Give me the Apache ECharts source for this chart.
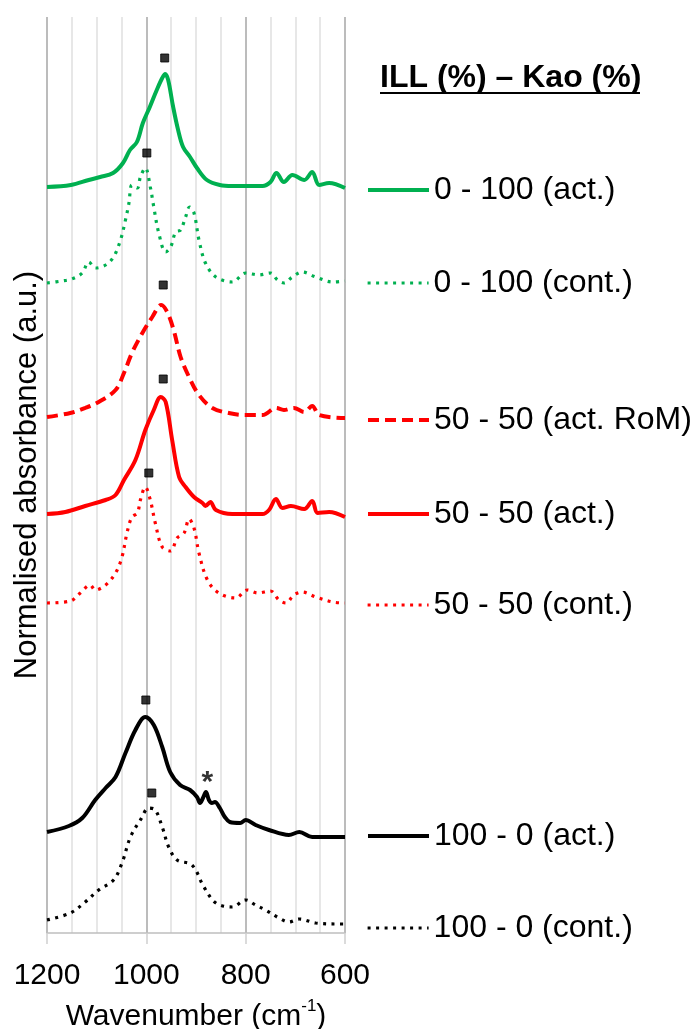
<!DOCTYPE html>
<html>
<head>
<meta charset="utf-8">
<script src="https://cdn.jsdelivr.net/npm/echarts@6/dist/echarts.min.js"></script>
<style>
html,body{margin:0;padding:0;background:#fff;}
#chart{width:693px;height:1029px;}
</style>
</head>
<body>
<div id="chart"></div>
<script>
// Wavenumber (cm-1) and offset normalised absorbance (a.u.)
const wnGreenAct = [1200,1152,1116,1093,1067,1047,1033,1019,1007,993,979,968,962,956,946,936,926,912,898,878,852,827,766,750,738,723,706,682,666,652,632,600];
const absGreenAct = [746,748,753,756,760,770,783,791,810,826,843,855,859,853,826,803,786,776,765,753,748,747,747,751,760,751,758,753,761,748,750,745];

const wnGreenCont = [1200,1170,1150,1129,1116,1102,1082,1066,1052,1042,1035,1029,1018,1012,1002,992,985,975,961,951,941,931,921,913,904,894,881,860,827,800,773,750,736,723,706,686,659,625,600];
const absGreenCont = [650,652,654,660,671,665,668,676,693,713,730,748,745,756,765,746,726,700,681,686,701,703,716,726,720,693,670,656,651,660,658,660,653,650,656,661,656,651,652];

const wnRedRoM = [1200,1153,1123,1096,1062,1045,1029,1008,988,970,958,945,931,914,894,867,834,800,766,739,723,703,682,666,652,600];
const absRedRoM = [516,520,525,531,543,560,580,600,616,628,621,603,576,556,538,525,520,518,518,525,523,525,521,527,518,515];

const wnRedAct = [1200,1163,1123,1082,1062,1045,1022,1002,985,971,961,948,934,921,904,887,881,871,860,827,766,753,739,726,709,682,666,655,632,600];
const absRedAct = [419,421,427,433,438,453,473,503,523,536,531,493,456,446,436,430,427,431,423,419,419,423,434,425,427,424,432,420,421,416];

const wnRedCont = [1200,1153,1133,1113,1103,1082,1062,1049,1039,1029,1018,1012,1002,992,982,968,951,938,924,914,904,894,877,854,820,797,776,750,733,719,703,686,659,625,600];
const absRedCont = [330,332,340,348,343,348,360,376,400,416,420,433,446,433,410,386,382,395,400,414,405,380,353,340,335,343,340,342,333,330,338,341,336,331,330];

const wnBlackAct = [1200,1156,1129,1103,1082,1062,1042,1022,1002,985,968,952,932,912,898,892,886,880,874,868,862,852,842,832,811,800,780,753,713,692,666,600];
const absBlackAct = [101,107,115,133,145,156,180,203,216,208,186,161,148,143,136,130,135,141,133,130,131,125,116,111,110,113,108,103,98,101,96,96];

const wnBlackCont = [1200,1153,1123,1096,1066,1049,1032,1012,995,982,968,955,938,908,884,860,827,800,780,760,733,713,692,659,612,600];
const absBlackCont = [13,20,31,43,53,70,96,113,125,123,106,86,73,68,46,30,26,33,28,23,15,11,14,10,9,9];

// Band maxima markers (wavenumber, offset absorbance)
const markerWn = [963,999,966,966,995,1001,989];
const markerAbs = [875,780,648,554,460,233,140];
// Asterisk annotation
const starWn = [877];
const starAbs = [150];

const seriesNames = ['0 - 100 (act.)','0 - 100 (cont.)','50 - 50 (act. RoM)','50 - 50 (act.)','50 - 50 (cont.)','100 - 0 (act.)','100 - 0 (cont.)'];
const xTicks = [1200,1000,800,600];

const GREEN = '#00B050', RED = '#FF0000', BLACK = '#000000';
const FONT = '"Liberation Sans", Arial, sans-serif';

function pairs(xs, ys){ return xs.map((x,i)=>[x, ys[i]]); }

const specs = [
  {name: seriesNames[0], wn: wnGreenAct, v: absGreenAct, color: GREEN, type: 'solid', width: 4},
  {name: seriesNames[1], wn: wnGreenCont, v: absGreenCont, color: GREEN, type: [3,5.5], width: 3.2},
  {name: seriesNames[2], wn: wnRedRoM, v: absRedRoM, color: RED, type: [11,6], width: 4},
  {name: seriesNames[3], wn: wnRedAct, v: absRedAct, color: RED, type: 'solid', width: 4},
  {name: seriesNames[4], wn: wnRedCont, v: absRedCont, color: RED, type: [3,5.5], width: 3.2},
  {name: seriesNames[5], wn: wnBlackAct, v: absBlackAct, color: BLACK, type: 'solid', width: 4},
  {name: seriesNames[6], wn: wnBlackCont, v: absBlackCont, color: BLACK, type: [3,5.5], width: 3.2}
];
const legendCenters = [190, 283, 420, 514, 605, 836, 928];

const series = specs.map(s => ({
  name: s.name,
  type: 'line',
  data: pairs(s.wn, s.v),
  smooth: 0.35,
  symbol: 'none',
  color: s.color,
  lineStyle: {color: s.color, width: s.width, type: s.type, cap: 'butt'},
  z: 3
}));
series.push({
  name: 'markers',
  type: 'scatter',
  data: pairs(markerWn, markerAbs),
  symbol: 'rect',
  symbolSize: 8,
  itemStyle: {color: '#000', borderColor: '#000', borderWidth: 1},
  z: 4
});
series.push({
  name: 'star',
  type: 'scatter',
  data: pairs(starWn, starAbs),
  symbol: 'rect',
  symbolSize: 0,
  label: {show: true, position: 'inside', formatter: '*', fontSize: 30, fontWeight: 'bold', color: '#000', fontFamily: FONT},
  z: 4
});

const legends = specs.map((s, i) => ({
  data: [s.name],
  left: 366,
  top: legendCenters[i] - 16,
  orient: 'vertical',
  padding: 0,
  itemWidth: 61,
  itemHeight: 14,
  selectedMode: false,
  itemStyle: {color: 'rgba(0,0,0,0)', borderColor: 'rgba(0,0,0,0)', borderWidth: 0, opacity: 0},
  lineStyle: {color: s.color, width: s.width, type: s.type, cap: 'butt'},
  textStyle: {fontSize: 32, lineHeight: 32, color: '#000', fontFamily: FONT}
}));

const option = {
  backgroundColor: '#ffffff',
  animation: false,
  grid: {left: 47, right: 348, top: 17, bottom: 96, containLabel: false, outerBoundsMode: 'none'},
  legend: legends,
  xAxis: {
    type: 'value',
    min: 600, max: 1200, interval: 200,
    inverse: true,
    name: 'Wavenumber (cm{sup|-1})',
    nameLocation: 'middle',
    nameGap: 65,
    nameTextStyle: {
      fontSize: 30, color: '#000', fontFamily: FONT, lineHeight: 38,
      rich: {sup: {fontSize: 17, lineHeight: 17, verticalAlign: 'top', color: '#000', fontFamily: FONT}}
    },
    axisLine: {show: true, onZero: false, lineStyle: {color: '#BFBFBF', width: 1.5}},
    axisTick: {show: true, length: 11, lineStyle: {color: '#D0D0D0', width: 1.5}},
    axisLabel: {
      fontSize: 30, color: '#000', fontFamily: FONT, margin: 28,
      formatter: v => xTicks.includes(v) ? String(v) : ''
    },
    splitLine: {show: true, lineStyle: {color: '#A6A6A6', width: 1.5}},
    minorTick: {show: false, splitNumber: 4},
    minorSplitLine: {show: true, lineStyle: {color: '#E0E0E0', width: 1.5}}
  },
  yAxis: {
    type: 'value',
    min: 0, max: 916,
    name: 'Normalised absorbance (a.u.)',
    nameLocation: 'middle',
    nameGap: 4,
    nameTextStyle: {fontSize: 31, color: '#000', fontFamily: FONT},
    axisLine: {show: false},
    axisTick: {show: false},
    axisLabel: {show: false},
    splitLine: {show: false}
  },
  graphic: [
    {type: 'text', left: 380, top: 62, style: {text: 'ILL (%) – Kao (%)', font: 'bold 32px ' + FONT, fill: '#000'}},
    {type: 'line', shape: {x1: 380, y1: 93, x2: 640, y2: 93}, style: {stroke: '#000', lineWidth: 2}}
  ],
  series: series
};

const chart = echarts.init(document.getElementById('chart'), null, {renderer: 'canvas'});
chart.setOption(option);
</script>
</body>
</html>
